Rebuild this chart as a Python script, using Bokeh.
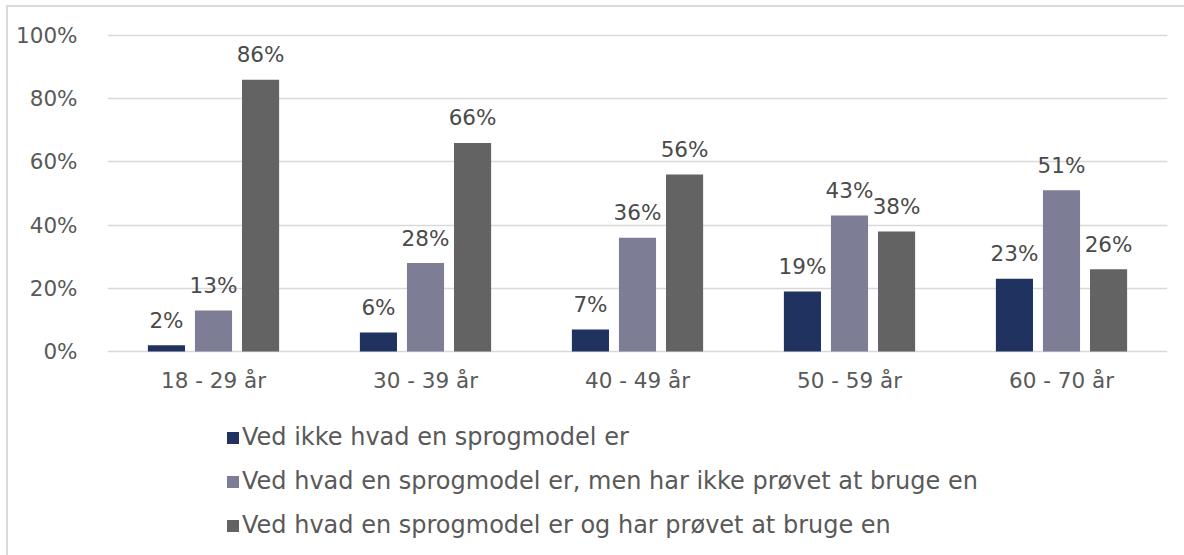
from bokeh.plotting import figure
from bokeh.models import ColumnDataSource, FactorRange, Range1d, Legend, LegendItem, NumeralTickFormatter, FixedTicker
from bokeh.transform import dodge
from bokeh.core.properties import value
from bokeh.embed import file_html
from bokeh.resources import INLINE

categories = ["18 - 29 år", "30 - 39 år", "40 - 49 år", "50 - 59 år", "60 - 70 år"]
series_names = [
    "Ved ikke hvad en sprogmodel er",
    "Ved hvad en sprogmodel er, men har ikke prøvet at bruge en",
    "Ved hvad en sprogmodel er og har prøvet at bruge en",
]
s1 = [0.02, 0.06, 0.07, 0.19, 0.23]
s2 = [0.13, 0.28, 0.36, 0.43, 0.51]
s3 = [0.86, 0.66, 0.56, 0.38, 0.26]
colors = ["#203260", "#7d7d95", "#636363"]
y_ticks = [0, 0.2, 0.4, 0.6, 0.8, 1.0]

FONT = "DejaVu Sans"
TXT = "#595959"
FS = "21.5px"

src = ColumnDataSource(dict(
    cat=categories, s1=s1, s2=s2, s3=s3,
    zero=[0] * len(categories),
    l1=[f"{round(v*100)}%" for v in s1],
    l2=[f"{round(v*100)}%" for v in s2],
    l3=[f"{round(v*100)}%" for v in s3],
))

W, H = 1184, 555
TOP, BOTTOM0, LEFT, RIGHT = 15, 351, 107, 1167   # frame top, 0% line, frame left/right (px)
px_per_unit = (BOTTOM0 - 35) / 1.0
y_end = 1.0 + (35 - TOP) / px_per_unit
y_start = -(H - BOTTOM0) / px_per_unit

p = figure(width=W, height=H, x_range=FactorRange(*categories), y_range=Range1d(y_start, y_end),
           output_backend="svg", toolbar_location=None,
           min_border_left=LEFT, min_border_right=W - RIGHT, min_border_top=TOP, min_border_bottom=0)
p.outline_line_color = None
p.background_fill_color = "white"
p.border_fill_color = "white"
p.border_fill_alpha = 0
p.styles = {
    "background-color": "white",
    "background-image": "linear-gradient(#d9d9d9, #d9d9d9), linear-gradient(#d9d9d9, #d9d9d9)",
    "background-size": "2px 100%, 100% 2px",
    "background-position": "6px 5px, 6px 5px",
    "background-repeat": "no-repeat",
}

offs = [-0.222, 0.0, 0.222]
keys = ["s1", "s2", "s3"]
lbls = ["l1", "l2", "l3"]
renderers = []
for k, lk, off, c in zip(keys, lbls, offs, colors):
    r = p.vbar(x=dodge("cat", off, range=p.x_range), top=k, width=0.175, source=src,
               fill_color=c, line_color=None)
    renderers.append(r)
    p.text(x=dodge("cat", off, range=p.x_range), y=k, text=lk, source=src,
           text_align="center", text_baseline="alphabetic", y_offset=-25,
           text_font=value(FONT), text_font_size=FS, text_color="#4a4a4a")

# category labels under the 0% line
p.text(x="cat", y="zero", text="cat", source=src, y_offset=29,
       text_align="center", text_baseline="middle",
       text_font=value(FONT), text_font_size=FS, text_color=TXT)

p.yaxis.ticker = FixedTicker(ticks=y_ticks)
p.yaxis.formatter = NumeralTickFormatter(format="0%")
p.yaxis.axis_line_color = None
p.yaxis.major_tick_line_color = None
p.yaxis.minor_tick_line_color = None
p.yaxis.major_label_standoff = 24
p.yaxis.major_label_text_font = FONT
p.yaxis.major_label_text_font_size = FS
p.yaxis.major_label_text_color = TXT

p.xaxis.visible = False
p.xgrid.grid_line_color = None
p.ygrid.ticker = FixedTicker(ticks=y_ticks)
p.ygrid.grid_line_color = "#d9d9d9"
p.ygrid.grid_line_width = 1.5

legend = Legend(items=[LegendItem(label=n, renderers=[r]) for n, r in zip(series_names, renderers)],
                orientation="vertical", location=(118, 16))
legend.label_text_font = FONT
legend.label_text_font_size = "24px"
legend.label_text_color = TXT
legend.glyph_width = 15
legend.glyph_height = 15
legend.label_height = 20
legend.label_standoff = 2
legend.spacing = 16
legend.padding = 0
legend.margin = 0
legend.border_line_color = None
legend.background_fill_alpha = 0
p.add_layout(legend, "center")

open("out.html", "w").write(file_html(p, INLINE))
